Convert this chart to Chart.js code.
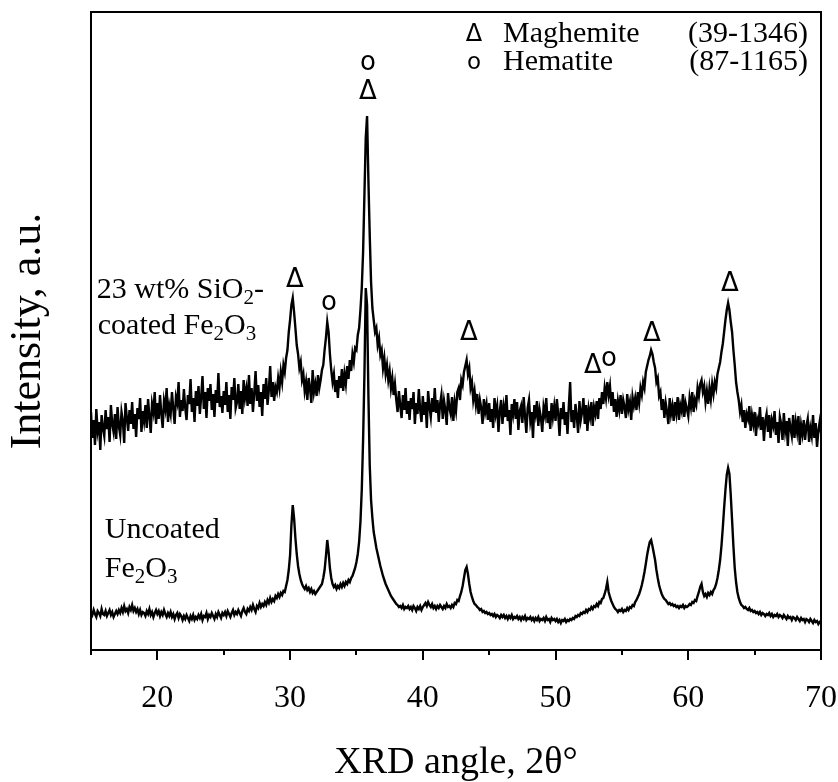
<!DOCTYPE html>
<html>
<head>
<meta charset="utf-8">
<script src="https://cdn.jsdelivr.net/npm/chart.js@4.4.1/dist/chart.umd.min.js"></script>
<style>
  html, body { margin: 0; padding: 0; background: #fff; }
  #wrap { width: 838px; height: 782px; }
</style>
</head>
<body>
<div id="wrap"><canvas id="c" width="838" height="782"></canvas></div>
<script>
// ---- data ----
// sampling grid: 2θ from 15.0° to 70.0°, step 0.1° (one row = one degree)
const ANGLE_START_TENTHS = 150;
const ANGLE_END_TENTHS = 700;

// 23 wt% SiO2-coated Fe2O3 (intensity, a.u.)
const coated = [
  238,212,230,205,241,219,228,200,235,222,
  214,240,221,233,208,245,226,218,236,211,
  243,224,215,238,229,207,247,232,219,240,
  226,248,221,236,213,242,231,252,218,239,
  229,245,222,251,234,217,246,238,258,226,
  247,231,255,236,222,249,241,262,228,244,
  236,258,241,226,253,247,268,233,250,239,
  261,242,230,255,246,271,238,252,228,259,
  244,264,236,253,274,241,258,232,262,249,
  266,240,256,233,260,247,277,243,254,237,
  259,245,268,238,255,231,263,250,272,242,
  248,266,241,259,236,270,252,261,244,275,
  246,262,238,257,279,249,265,243,258,234,
  266,251,272,245,260,284,253,268,249,263,
  258,272,262,278,268,285,278,292,300,318,
  330,345,352,338,322,305,296,282,288,270,
  276,259,268,250,272,262,247,280,258,266,
  254,275,262,270,280,285,300,312,328,318,
  296,280,268,276,258,270,252,274,262,281,
  259,276,266,284,271,290,279,296,288,302,
  300,315,322,340,362,398,455,512,534,470,
  415,368,342,330,318,322,305,312,295,300,
  282,292,276,285,270,279,262,272,255,266,
  250,238,259,244,232,255,240,262,236,249,
  230,252,241,258,226,247,236,261,240,228,
  254,235,248,222,259,243,233,252,238,262,
  237,250,228,246,255,231,249,240,225,257,
  242,236,253,229,248,239,258,262,250,270,
  265,278,284,290,276,282,262,268,250,259,
  245,256,236,250,242,226,251,238,246,230,
  247,228,241,222,252,236,244,218,239,250,
  226,243,233,255,229,240,215,246,236,251,
  231,248,220,239,244,227,253,234,217,242,
  250,229,238,212,245,236,249,224,240,232,
  218,243,235,252,227,239,221,247,233,244,
  229,251,236,214,242,231,248,225,238,216,
  244,268,228,240,222,246,234,217,249,230,
  238,252,226,245,219,241,233,248,224,243,
  236,249,231,252,241,258,246,262,252,268,
  255,264,244,258,238,251,233,249,240,255,
  236,250,243,232,256,241,248,230,253,244,
  252,240,258,247,262,255,268,262,278,284,
  290,294,300,296,288,282,268,272,254,258,
  240,251,232,247,238,226,252,236,244,229,
  248,237,253,230,245,239,256,233,247,241,
  234,252,243,258,238,250,245,262,254,266,
  270,258,264,248,259,246,262,251,266,256,
  268,262,276,282,288,298,306,318,330,340,
  347,340,328,318,300,285,268,258,250,238,
  245,228,240,222,236,231,244,219,235,226,
  238,214,231,226,243,220,233,209,229,236,
  218,235,212,230,224,239,215,228,207,233,
  226,210,237,219,229,204,232,222,214,235,
  212,228,218,234,205,225,216,230,210,224,
  231,208,222,214,235,212,227,203,219,228,
  217
];

// Uncoated Fe2O3 (intensity, a.u.)
const uncoated = [
  38,35,40,36,33,39,37,34,41,36,
  35,39,34,37,40,35,38,33,36,39,
  36,40,37,42,38,44,39,41,37,43,
  40,45,39,42,38,41,36,40,35,38,
  37,34,39,36,41,35,38,33,37,40,
  36,39,34,38,35,40,36,33,37,34,
  38,33,36,31,35,37,32,36,34,30,
  34,31,35,32,29,34,31,35,30,33,
  31,35,32,36,30,34,33,37,31,35,
  33,37,34,31,36,33,38,35,32,37,
  35,38,34,39,36,33,37,40,35,38,
  36,40,37,34,39,42,38,36,41,39,
  43,40,45,41,38,44,42,47,43,46,
  44,48,45,50,47,52,48,51,49,54,
  52,56,53,57,55,59,58,64,70,80,
  95,125,145,132,112,96,84,76,70,66,
  63,61,64,60,62,58,61,57,59,56,
  58,60,62,64,66,72,80,94,110,98,
  82,72,66,63,65,61,64,62,66,63,
  67,64,68,66,70,68,72,74,78,82,
  88,96,108,128,160,210,275,362,345,255,
  185,150,132,118,110,102,96,90,84,79,
  74,70,66,63,60,57,54,52,50,48,
  46,45,43,44,42,45,41,43,42,44,
  41,43,40,44,42,39,43,41,44,40,
  43,45,47,44,48,45,43,46,42,44,
  41,44,42,45,43,41,44,42,46,43,
  44,42,45,43,47,46,50,49,54,58,
  64,72,80,83,76,66,58,53,49,46,
  45,43,42,40,41,38,39,37,38,36,
  37,35,36,34,36,33,35,34,32,35,
  33,35,32,34,31,34,32,35,31,33,
  32,34,31,33,30,33,31,34,30,32,
  31,33,30,32,29,32,30,33,29,31,
  30,32,29,33,30,31,28,32,30,31,
  29,31,28,30,27,30,29,31,28,30,
  29,31,30,32,31,34,33,35,34,37,
  36,38,37,40,38,41,40,43,41,44,
  43,46,44,48,47,51,52,56,61,68,
  58,53,49,46,43,41,40,38,40,39,
  41,38,40,39,42,40,43,42,45,44,
  48,50,53,56,60,65,71,78,86,95,
  102,108,110,104,97,90,80,72,65,60,
  56,53,51,50,48,46,47,45,46,44,
  45,43,44,42,44,43,45,42,44,43,
  44,46,45,48,47,50,49,54,58,63,
  66,58,54,56,53,57,55,58,56,60,
  62,66,72,80,90,104,122,142,160,175,
  182,176,155,130,104,82,68,58,52,48,
  45,44,42,43,41,40,42,39,40,38,
  39,37,38,36,38,35,37,36,34,36,
  35,37,34,36,33,35,34,36,33,35,
  34,32,35,33,31,34,32,33,30,33,
  32,30,33,31,29,32,30,31,28,31,
  30,28,31,29,27,30,28,29,26,28,
  27
];

// x-axis ticks
const X_MIN = 15, X_MAX = 70, X_STEP = 5;
const LABELLED_EVERY = 10;
const Y_MIN = 0, Y_MAX = 638;

// phase markers above the peaks
const markerSymbols = ['o', 'Δ', 'Δ', 'o', 'Δ', 'Δ', 'o', 'Δ', 'Δ'];
const markerAngles  = [35.86, 35.86, 30.36, 32.92, 43.47, 52.81, 54.02, 57.26, 63.14];
const markerLevels  = [587, 558, 370, 347, 317, 284, 291, 316, 366];

// phase legend
const legendSymbols = ['Δ', 'o'];
const legendNames   = ['Maghemite', 'Hematite'];
const legendCards   = ['(39-1346)', '(87-1165)'];

// sample labels: [text, isSubscript] parts per line
const sampleLines = [
  [['23 wt% SiO', 0], ['2', 1], ['-', 0]],
  [['coated Fe', 0], ['2', 1], ['O', 0], ['3', 1]],
  [['Uncoated', 0]],
  [['Fe', 0], ['2', 1], ['O', 0], ['3', 1]]
];
const sampleAngles = [15.44, 15.51, 16.04, 16.04];
const sampleLevels = [352, 316, 112, 73];

// ---- build ----
const angles = [];
for (let t = ANGLE_START_TENTHS; t <= ANGLE_END_TENTHS; t++) angles.push(t / 10);
const toPoints = arr => arr.map((v, i) => ({ x: angles[i], y: v }));

const SERIF = '"Liberation Serif", "Times New Roman", serif';
const SANS = '"DejaVu Sans", sans-serif';

const framePlugin = {
  id: 'frameAndText',
  afterDraw(chart) {
    const ctx = chart.ctx;
    const a = chart.chartArea;
    const xs = chart.scales.x, ys = chart.scales.y;
    ctx.save();
    // frame
    ctx.strokeStyle = '#000';
    ctx.lineWidth = 2;
    ctx.strokeRect(a.left, a.top, a.right - a.left, a.bottom - a.top);
    // tick marks (outside, major longer)
    xs.ticks.forEach(t => {
      const px = Math.round(xs.getPixelForValue(t.value));
      const len = (t.value % LABELLED_EVERY === 0) ? 10 : 5;
      ctx.beginPath();
      ctx.moveTo(px, a.bottom);
      ctx.lineTo(px, a.bottom + len);
      ctx.stroke();
    });
    // peak markers
    ctx.fillStyle = '#000';
    ctx.textAlign = 'center';
    ctx.textBaseline = 'middle';
    markerSymbols.forEach((s, i) => {
      ctx.font = (s === 'Δ' ? '26px ' : '26px ') + SANS;
      ctx.fillText(s, xs.getPixelForValue(markerAngles[i]), ys.getPixelForValue(markerLevels[i]));
    });
    // legend
    legendSymbols.forEach((s, i) => {
      const base = a.top + 30 + i * 28;
      ctx.textAlign = 'center';
      ctx.textBaseline = 'alphabetic';
      ctx.font = (s === 'Δ' ? '24px ' : '23px ') + SANS;
      ctx.fillText(s, 474, base - 1);
      ctx.textAlign = 'left';
      ctx.font = '30px ' + SERIF;
      ctx.fillText(legendNames[i], 503, base);
      ctx.textAlign = 'right';
      ctx.fillText(legendCards[i], 808, base);
    });
    // sample labels
    ctx.textAlign = 'left';
    ctx.textBaseline = 'alphabetic';
    sampleLines.forEach((parts, i) => {
      let x = xs.getPixelForValue(sampleAngles[i]);
      const y = ys.getPixelForValue(sampleLevels[i]);
      parts.forEach(([txt, sub]) => {
        ctx.font = (sub ? '21px ' : '30px ') + SERIF;
        ctx.fillText(txt, x, sub ? y + 6 : y);
        x += ctx.measureText(txt).width;
      });
    });
    ctx.restore();
  }
};

new Chart(document.getElementById('c'), {
  type: 'line',
  data: {
    datasets: [
      { label: '23 wt% SiO2-coated Fe2O3', data: toPoints(coated), borderColor: '#000', borderWidth: 2.4, pointRadius: 0, tension: 0, fill: false },
      { label: 'Uncoated Fe2O3', data: toPoints(uncoated), borderColor: '#000', borderWidth: 2.4, pointRadius: 0, tension: 0, fill: false }
    ]
  },
  options: {
    responsive: false,
    animation: false,
    events: [],
    layout: { padding: { left: 0, right: 17, top: 12, bottom: 0 } },
    plugins: { legend: { display: false }, tooltip: { enabled: false } },
    scales: {
      x: {
        type: 'linear',
        min: X_MIN, max: X_MAX,
        grid: { display: false, drawTicks: false },
        border: { display: false },
        ticks: {
          stepSize: X_STEP,
          autoSkip: false,
          maxRotation: 0,
          padding: 29,
          color: '#000',
          font: { family: SERIF, size: 32 },
          callback: v => (v % LABELLED_EVERY === 0 ? String(v) : '')
        },
        title: {
          display: true,
          text: 'XRD angle, 2θ°',
          color: '#000',
          font: { family: SERIF, size: 38 },
          padding: { top: 0, bottom: -4 }
        },
        afterFit: s => { s.height = 132; s.paddingLeft = 0; s.paddingRight = 0; }
      },
      y: {
        type: 'linear',
        min: Y_MIN, max: Y_MAX,
        grid: { display: false, drawTicks: false },
        border: { display: false },
        ticks: { display: false },
        title: {
          display: true,
          text: 'Intensity, a.u.',
          color: '#000',
          font: { family: SERIF, size: 44 },
          padding: { top: 2, bottom: 4 }
        },
        afterFit: s => { s.width = 91; s.paddingTop = 0; s.paddingBottom = 0; }
      }
    }
  },
  plugins: [framePlugin]
});
</script>
</body>
</html>
